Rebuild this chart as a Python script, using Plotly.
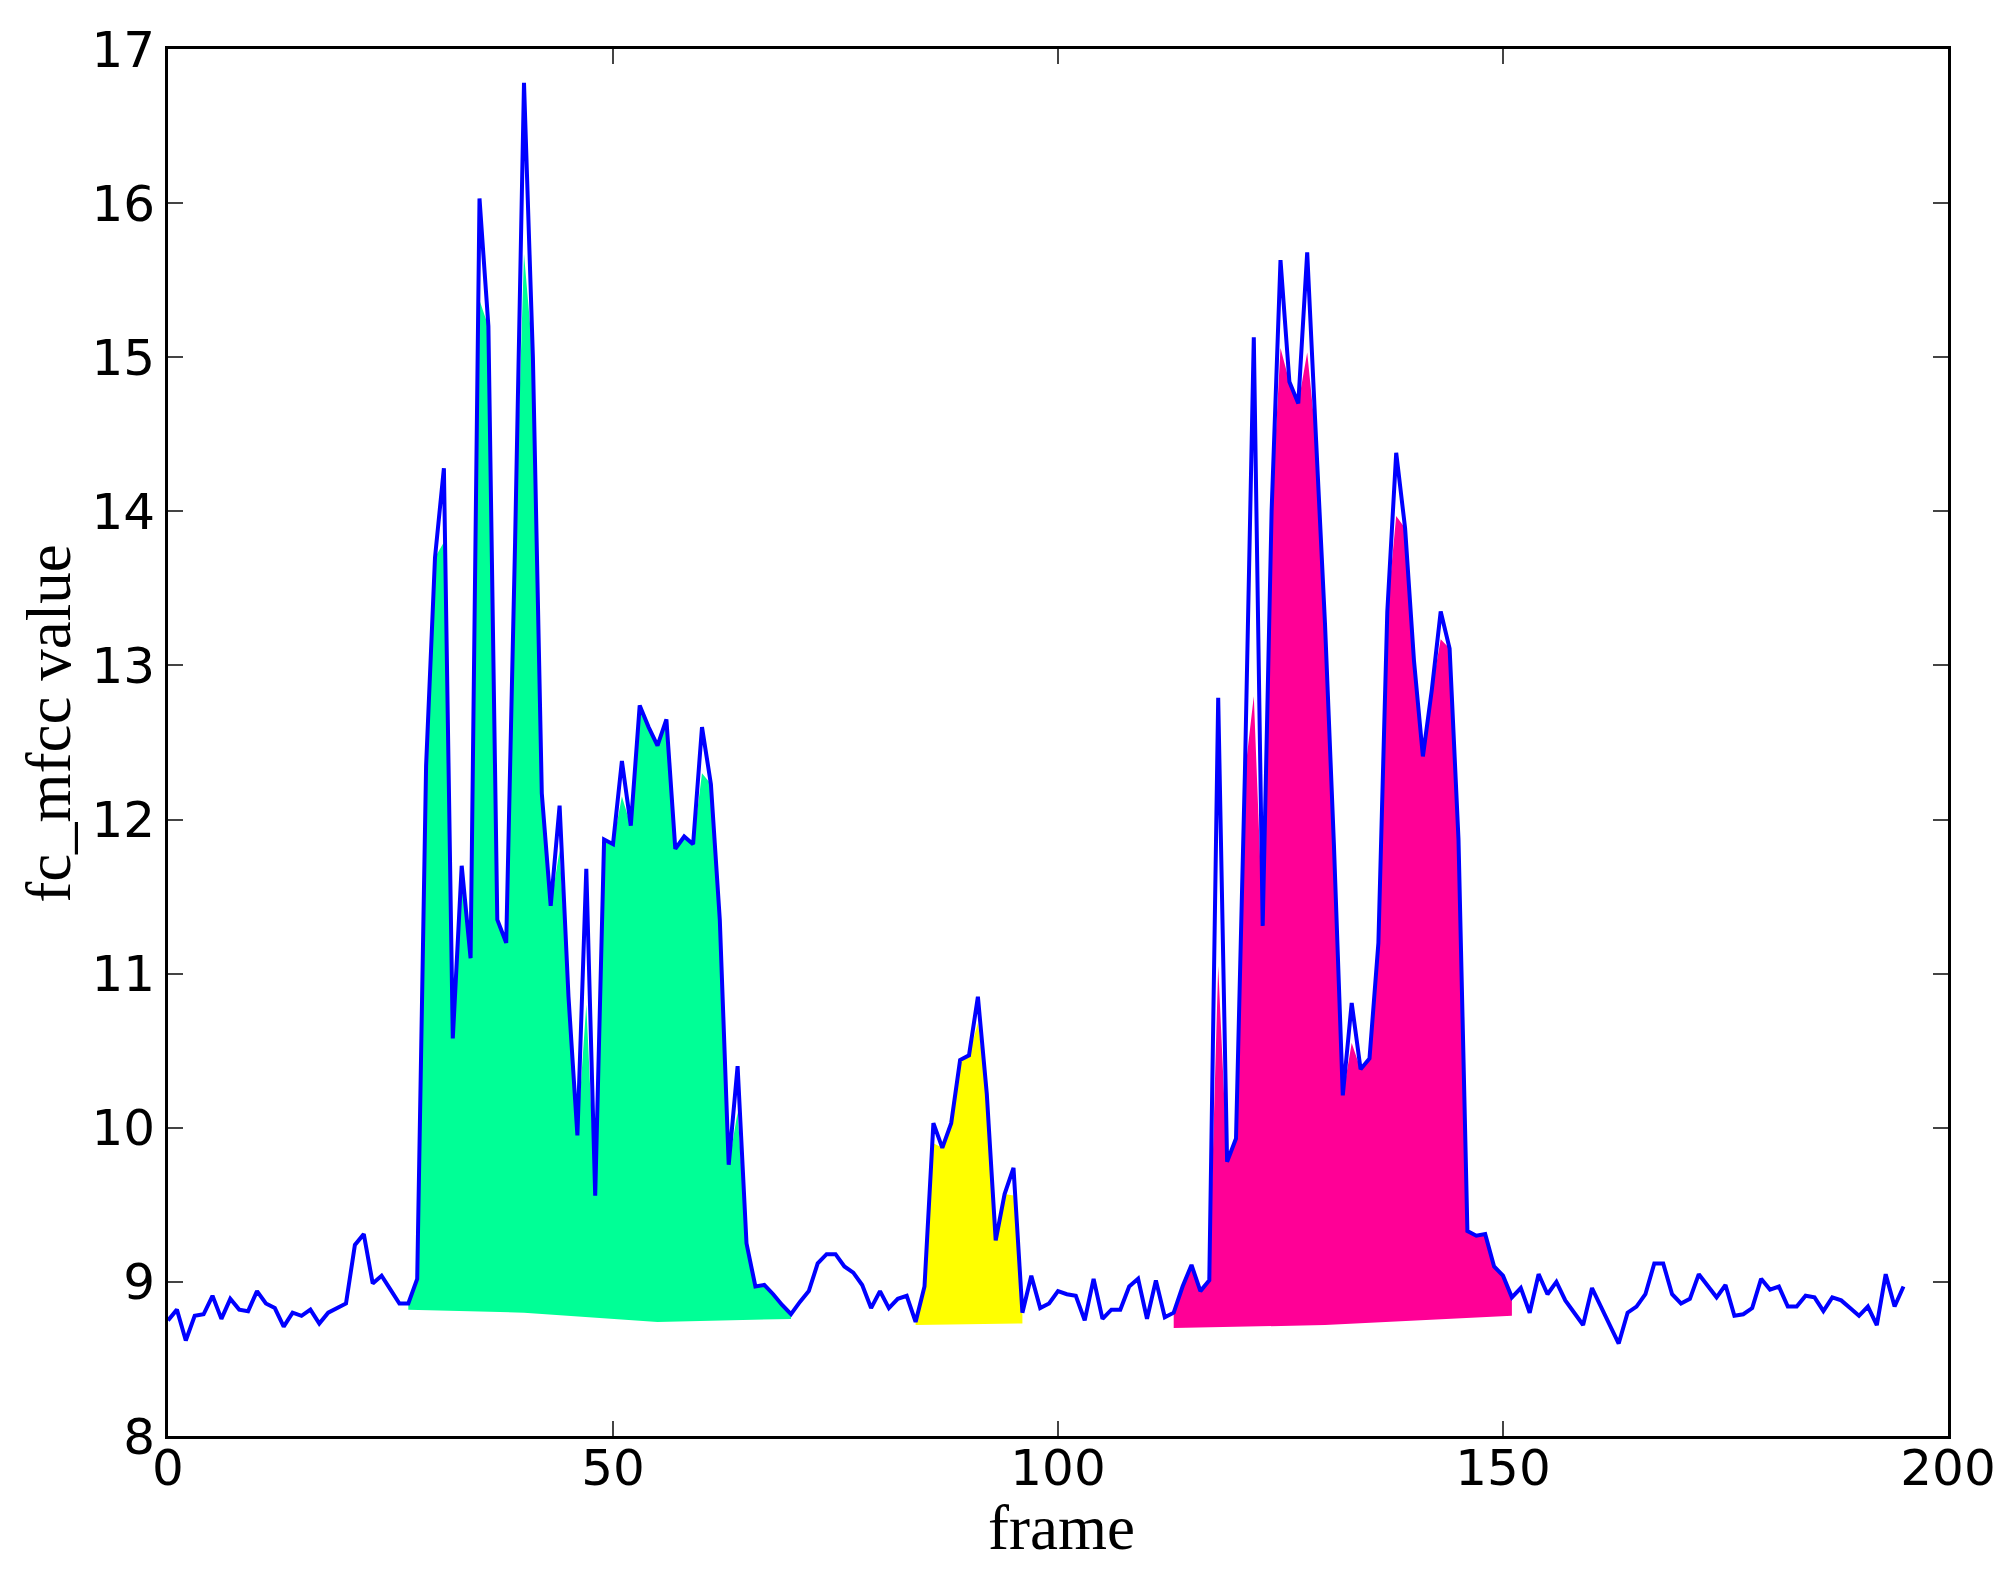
import plotly.graph_objects as go

# fc_mfcc value per frame
frames = list(range(196))
mfcc = [
    8.75, 8.82, 8.62, 8.78, 8.79, 8.91, 8.76, 8.89, 8.82, 8.81,
    8.94, 8.86, 8.83, 8.71, 8.80, 8.78, 8.82, 8.73, 8.80, 8.83,
    8.86, 9.24, 9.31, 8.99, 9.04, 8.95, 8.86, 8.86, 9.02, 12.35,
    13.70, 14.28, 10.58, 11.70, 11.10, 16.03, 15.20, 11.35, 11.20, 13.80,
    16.78, 15.00, 12.17, 11.44, 12.09, 10.85, 9.95, 11.68, 9.56, 11.87,
    11.84, 12.38, 11.96, 12.74, 12.60, 12.48, 12.65, 11.81, 11.89, 11.84,
    12.60, 12.23, 11.35, 9.76, 10.40, 9.25, 8.97, 8.98, 8.92, 8.85,
    8.79, 8.87, 8.94, 9.12, 9.18, 9.18, 9.10, 9.06, 8.98, 8.83,
    8.94, 8.83, 8.89, 8.91, 8.74, 8.97, 10.03, 9.87, 10.03, 10.44,
    10.47, 10.85, 10.22, 9.27, 9.57, 9.74, 8.80, 9.04, 8.83, 8.86,
    8.94, 8.92, 8.91, 8.75, 9.02, 8.76, 8.82, 8.82, 8.97, 9.02,
    8.76, 9.01, 8.77, 8.80, 8.97, 9.11, 8.94, 9.01, 12.79, 9.78,
    9.93, 12.30, 15.13, 11.31, 14.00, 15.63, 14.84, 14.70, 15.68, 14.46,
    13.27, 11.84, 10.21, 10.81, 10.38, 10.45, 11.20, 13.35, 14.38, 13.89,
    13.03, 12.41, 12.84, 13.35, 13.11, 11.87, 9.33, 9.30, 9.31, 9.10,
    9.04, 8.90, 8.96, 8.80, 9.05, 8.92, 9.00, 8.88, 8.80, 8.72,
    8.96, 8.84, 8.73, 8.60, 8.80, 8.84, 8.92, 9.12, 9.12, 8.92,
    8.86, 8.89, 9.05, 8.98, 8.90, 8.98, 8.78, 8.79, 8.83, 9.02,
    8.95, 8.97, 8.84, 8.84, 8.91, 8.90, 8.81, 8.90, 8.88, 8.83,
    8.78, 8.84, 8.72, 9.05, 8.84, 8.97,
]

# where the hand-painted fill stops short of a narrow spike tip
fill_caps = {
    31: 13.8, 35: 15.37, 40: 15.67, 44: 11.8, 47: 10.8, 51: 12.15,
    60: 12.3, 64: 10.1, 86: 9.9, 91: 10.68, 95: 9.56, 118: 11.05,
    122: 12.8, 125: 15.06, 128: 15.03, 133: 10.55, 138: 13.97, 143: 13.17,
}

# highlighted segments: (first frame, last frame, bottom edge frames, bottom edge values, colour)
segments = [
    (27, 70, [70, 55, 40, 27], [8.76, 8.74, 8.80, 8.82], "#00ff96"),
    (84, 96, [96, 84], [8.73, 8.72], "#ffff00"),
    (113, 151, [151, 130, 113], [8.78, 8.72, 8.70], "#ff0096"),
]

fig = go.Figure()

for start, end, base_x, base_y, color in segments:
    xs = frames[start:end + 1]
    tops = [min(mfcc[f], fill_caps.get(f, mfcc[f])) for f in xs]
    fig.add_trace(
        go.Scatter(
            x=xs + base_x,
            y=tops + base_y,
            fill="toself",
            fillcolor=color,
            mode="lines",
            line=dict(width=0, color=color),
            hoverinfo="skip",
            showlegend=False,
        )
    )

fig.add_trace(
    go.Scatter(
        x=frames,
        y=mfcc,
        mode="lines",
        line=dict(color="#0000ff", width=4),
        showlegend=False,
    )
)

axis_style = dict(
    showgrid=False,
    zeroline=False,
    showline=True,
    linecolor="black",
    linewidth=3,
    mirror="allticks",
    ticks="inside",
    ticklen=15,
    tickwidth=2,
    tickcolor="#444444",
    tickfont=dict(family="DejaVu Sans", size=50, color="black"),
)

fig.update_xaxes(range=[0, 200], tickvals=[0, 50, 100, 150, 200],
                 ticklabelstandoff=-14, **axis_style)
fig.update_yaxes(range=[8, 17], tickvals=list(range(8, 18)), **axis_style)

title_font = dict(family="Liberation Serif", size=63, color="black")
fig.add_annotation(
    text="frame", xref="paper", yref="paper", x=0.502, y=-0.066,
    xanchor="center", yanchor="middle", showarrow=False, font=title_font,
)
fig.add_annotation(
    text="fc_mfcc value", xref="paper", yref="paper", x=-0.067, y=0.514,
    xanchor="center", yanchor="middle", textangle=-90, showarrow=False, font=title_font,
)

# the page body adds an 8px margin, so the figure is sized to fit inside it
fig.update_layout(
    width=2000,
    height=1561,
    margin=dict(l=160, r=50, t=41, b=133),
    paper_bgcolor="white",
    plot_bgcolor="white",
)

fig.write_html("out.html")
